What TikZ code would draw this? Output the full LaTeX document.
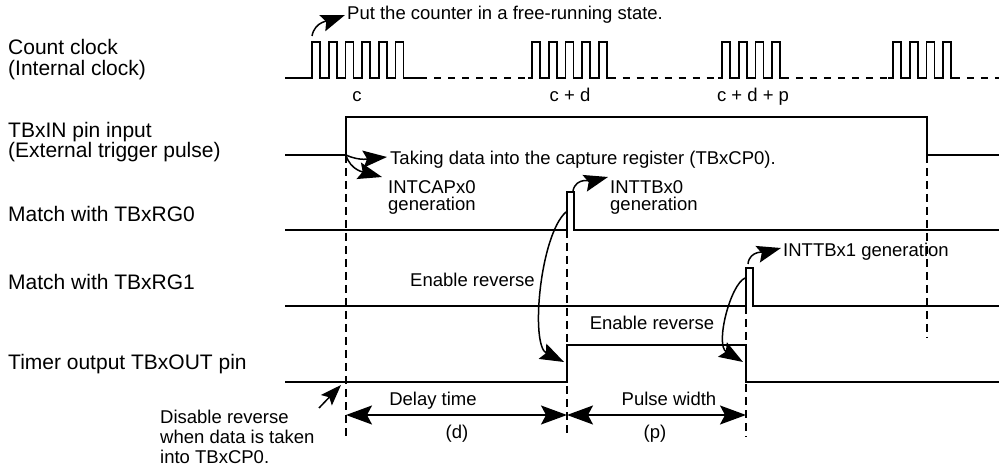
\documentclass[tikz,border=0pt]{standalone}
\usepackage{fontspec}
\setmainfont{Liberation Sans}
\usetikzlibrary{arrows.meta}
\tikzset{
  arr/.style={line width=1.5pt, -{Stealth[length=24pt,width=17pt,inset=4pt]}},
  smallarr/.style={line width=1.5pt, -{Stealth[length=21pt,width=15pt,inset=4pt]}},
  dimarr/.style={line width=1.5pt, {Stealth[length=26pt,width=19pt,inset=5pt]}-{Stealth[length=26pt,width=19pt,inset=5pt]}},
}
\begin{document}
\begin{tikzpicture}[x=1pt,y=-1pt,
  wave/.style={line width=2.2pt, line join=miter},
  clk/.style={line width=1.6pt, line join=miter},
  clkdash/.style={line width=1.6pt, dash pattern=on 7pt off 7pt, dash phase=7pt},
  vdash/.style={line width=1.5pt, dash pattern=on 8pt off 5pt},
  lbl/.style={font=\fontsize{21}{21}\selectfont, inner sep=0pt, anchor=base west},
  ann/.style={font=\fontsize{18.5}{18.5}\selectfont, inner sep=0pt, anchor=base west},
  annc/.style={font=\fontsize{18.5}{18.5}\selectfont, inner sep=0pt, anchor=base},
]
\useasboundingbox (0,0) rectangle (999,470);

% ---------- left labels ----------
\node[lbl] (lclkA) at (8,54.5) {Count clock};
\node[lbl] (lclkB) at (8,75.5) {(Internal clock)};
\node[lbl] (linA) at (8,137.5) {TBxIN pin input};
\node[lbl] (linB) at (8,157.5) {(External trigger pulse)};
\node[lbl] (lrg0) at (8,221.5) {Match with TBxRG0};
\node[lbl] (lrg1) at (8,289.5) {Match with TBxRG1};
\node[lbl] (lout) at (8,369.5) {Timer output TBxOUT pin};

% ---------- count clock ----------
\draw[clk] (285,78) -- (312,78) \foreach \i in {1,...,6}{ -- ++(0,-36) -- ++(8,0) -- ++(0,36) -- ++(8.7,0)} -- (427,78);
\draw[clk] (528,78) -- (532,78) \foreach \i in {1,...,5}{ -- ++(0,-36) -- ++(8,0) -- ++(0,36) -- ++(8.7,0)};
\draw[clk] (718,78) -- (722,78) \foreach \i in {1,...,4}{ -- ++(0,-36) -- ++(8,0) -- ++(0,36) -- ++(8.7,0)};
\draw[clk] (888,78) -- (893,78) \foreach \i in {1,...,4}{ -- ++(0,-36) -- ++(8,0) -- ++(0,36) -- ++(8.7,0)};
\draw[clkdash] (427,78) -- (528,78);
\draw[clkdash] (615.5,78) -- (718,78);
\draw[clkdash] (788.8,78) -- (888,78);
\draw[clkdash] (959.8,78) -- (999,78);

\node[annc] (cA) at (357,101.7) {c};
\node[annc] (cB) at (570,101.7) {c + d};
\node[annc] (cC) at (753,101.7) {c + d + p};

% ---------- TBxIN ----------
\coordinate (inRise) at (346,155);
\coordinate (inFall) at (927,155);
\draw[wave] (285,155) -- (inRise) -- (346,117) -- (927,117) -- (inFall) -- (999,155);

% ---------- RG0 ----------
\coordinate (rg0Base) at (567,230);
\coordinate (rg0Top) at (573,191);
\coordinate (rg0Left) at (566,212);
\draw[wave] (285,230) -- (rg0Base) -- (567,192) -- (574,192) -- (574,230) -- (999,230);

% ---------- RG1 ----------
\coordinate (rg1Base) at (746,306);
\coordinate (rg1Top) at (748,264);
\coordinate (rg1Left) at (745,278);
\draw[wave] (285,306) -- (rg1Base) -- (746,268) -- (753,268) -- (753,306) -- (999,306);

% ---------- Timer output ----------
\draw[wave] (285,382) -- (567,382) -- (567,345) -- (746,345) -- (746,382) -- (999,382);

% ---------- dashed verticals ----------
\coordinate (vA) at (346,437);
\coordinate (vB) at (567,437);
\coordinate (vC) at (746,437);
\coordinate (vD) at (927,338);
\draw[vdash] (inRise) -- (vA);
\draw[vdash] (rg0Base) -- (vB);
\draw[vdash] (rg1Base) -- (vC);
\draw[vdash] (inFall) -- (vD);

% ---------- dimension arrows ----------
\coordinate (dA) at (346,415);
\coordinate (dB) at (567,415);
\coordinate (dC) at (746,415);
\draw[dimarr] (dA) -- (dB);
\draw[dimarr] (dB) -- (dC);
\node[annc] (delay) at (433,406) {Delay time};
\node[annc] (dd) at (457,438) {(d)};
\node[annc] (pulse) at (669,406) {Pulse width};
\node[annc] (pp) at (655,438) {(p)};

% ---------- annotations ----------
\node[ann] (put) at (347,20) {Put the counter in a free-running state.};
\coordinate (putStart) at (312,36);
\coordinate (putTip) at (345,15);
\draw[arr] (putStart) to[out=80,in=200] (putTip);

\node[ann] (taking) at (390,164.5) {Taking data into the capture register (TBxCP0).};
\coordinate (takTip) at (387,157);
\draw[arr] (inRise) to[out=-25,in=185] (takTip);

\node[ann] (capA) at (388,193.3) {INTCAPx0};
\node[ann] (capB) at (388,211) {generation};
\coordinate (capTip) at (382,177);
\draw[arr] (inRise) to[out=-75,in=165] (capTip);

\node[ann] (tb0A) at (610,193.3) {INTTBx0};
\node[ann] (tb0B) at (610,211) {generation};
\coordinate (tb0Tip) at (608,177);
\draw[arr] (rg0Top) to[out=80,in=195] (tb0Tip);

\node[ann] (tb1) at (783,256.7) {INTTBx1 generation};
\coordinate (tb1Tip) at (781,248);
\draw[arr] (rg1Top) to[out=85,in=195] (tb1Tip);

\node[ann] (enA) at (410,286.5) {Enable reverse};
\coordinate (enATip) at (564,362);
\draw[arr] (rg0Left) .. controls (540,235) and (530,345) .. (enATip);

\node[annc] (enB) at (652,329.5) {Enable reverse};
\coordinate (enBTip) at (743,362);
\draw[arr] (rg1Left) .. controls (730,285) and (715,345) .. (enBTip);

\node[ann] (disA) at (160,423) {Disable reverse};
\node[ann] (disB) at (160,443) {when data is taken};
\node[ann] (disC) at (160,463) {into TBxCP0.};
\coordinate (disStart) at (319,408);
\coordinate (disTip) at (341,385);
\draw[smallarr] (disStart) -- (disTip);
\end{tikzpicture}
\end{document}
